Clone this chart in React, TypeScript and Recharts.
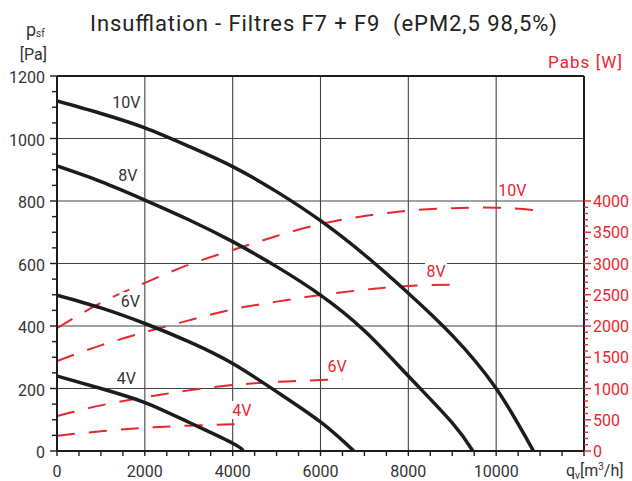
import React from 'react';
import { ComposedChart, Line, XAxis, YAxis, CartesianGrid, ReferenceLine, ReferenceDot } from 'recharts';

const FONT = 'Roboto, "DejaVu Sans", sans-serif';
const RED = '#e8262d';
const INK = '#1c1c1c';
const TXT = '#333333';

// ticks
const qMajorTicks = [0, 2000, 4000, 6000, 8000, 10000, 12000];
const qMinorTicks = [0, 500, 1000, 1500, 2000, 2500, 3000, 3500, 4000, 4500, 5000, 5500, 6000, 6500, 7000, 7500, 8000, 8500, 9000, 9500, 10000, 10500, 11000, 11500, 12000];
const pMajorTicks = [0, 200, 400, 600, 800, 1000, 1200];
const pMinorTicks = [0, 50, 100, 150, 200, 250, 300, 350, 400, 450, 500, 550, 600, 650, 700, 750, 800, 850, 900, 950, 1000, 1050, 1100, 1150, 1200];
const wMajorTicks = [0, 500, 1000, 1500, 2000, 2500, 3000, 3500, 4000];
const wMinorTicks = [0, 100, 200, 300, 400, 500, 600, 700, 800, 900, 1000, 1100, 1200, 1300, 1400, 1500, 1600, 1700, 1800, 1900, 2000, 2100, 2200, 2300, 2400, 2500, 2600, 2700, 2800, 2900, 3000, 3100, 3200, 3300, 3400, 3500, 3600, 3700, 3800, 3900, 4000];

// pressure curves (Pa)
const q10V = [0, 1000, 2000, 3000, 4000, 5000, 6000, 7000, 8000, 9000, 10000, 10850];
const p10V = [1120, 1080, 1034, 975, 910, 830, 737, 628, 505, 370, 200, 0];
const q8V = [0, 1000, 2000, 3000, 4000, 5000, 6000, 7000, 8000, 9000, 9470];
const p8V = [912, 862, 803, 740, 670, 590, 499, 385, 240, 90, 0];
const q6V = [0, 1000, 2000, 3000, 4000, 5000, 6000, 6760];
const p6V = [499, 458, 408, 350, 280, 190, 93, 0];
const q4V = [0, 1000, 2000, 3000, 4000, 4240];
const p4V = [240, 200, 155, 92, 25, 0];

// absorbed power curves (W)
const qW10V = [0, 1000, 2000, 3000, 4000, 5000, 6000, 7000, 8000, 9000, 10000, 10950];
const w10V = [1965, 2370, 2690, 2980, 3216, 3440, 3630, 3760, 3845, 3885, 3893, 3850];
const qW8V = [0, 1000, 2000, 3000, 4000, 5000, 6000, 7000, 8000, 9150];
const w8V = [1440, 1690, 1900, 2090, 2267, 2390, 2496, 2580, 2640, 2665];
const qW6V = [0, 1000, 2000, 3000, 4000, 5000, 6000, 6500];
const w6V = [560, 730, 860, 970, 1055, 1105, 1136, 1150];
const qW4V = [0, 1000, 2000, 3000, 4000, 4240];
const w4V = [245, 315, 370, 405, 427, 430];

// curve labels
const pLabels = [
  { text: '10V', q: 1580, v: 1118 },
  { text: '8V', q: 1615, v: 882 },
  { text: '6V', q: 1670, v: 480 },
  { text: '4V', q: 1580, v: 234 },
];
const wLabels = [
  { text: '10V', q: 10370, v: 4184 },
  { text: '8V', q: 8630, v: 2888 },
  { text: '6V', q: 6380, v: 1368 },
  { text: '4V', q: 4207, v: 656 },
];

const zip = (qs: number[], vs: number[]) => qs.map((q, i) => ({ q, v: vs[i] }));

const pressureSeries = [
  { name: 'p10V', data: zip(q10V, p10V) },
  { name: 'p8V', data: zip(q8V, p8V) },
  { name: 'p6V', data: zip(q6V, p6V) },
  { name: 'p4V', data: zip(q4V, p4V) },
];
const powerSeries = [
  { name: 'w10V', data: zip(qW10V, w10V) },
  { name: 'w8V', data: zip(qW8V, w8V) },
  { name: 'w6V', data: zip(qW6V, w6V) },
  { name: 'w4V', data: zip(qW4V, w4V) },
];

const BottomTick = (props: any) => {
  const { x, y, payload } = props;
  const v = payload.value;
  const major = qMajorTicks.includes(v);
  return (
    <g>
      <line x1={x} x2={x} y1={y} y2={y + 5} stroke={INK} strokeWidth={1.4} />
      {major && v !== 12000 && (
        <text x={x} y={y + 26} textAnchor="middle" fontSize={16} fill={TXT} fontFamily={FONT}>{v}</text>
      )}
    </g>
  );
};

const LeftTick = (props: any) => {
  const { x, y, payload } = props;
  const v = payload.value;
  const major = pMajorTicks.includes(v);
  return (
    <g>
      <line x1={x} x2={x - (major ? 7 : 5)} y1={y} y2={y} stroke={INK} strokeWidth={1.4} />
      {major && (
        <text x={x - 12} y={y + 7} textAnchor="end" fontSize={16} fill={TXT} fontFamily={FONT}>{v}</text>
      )}
    </g>
  );
};

const RightTick = (props: any) => {
  const { x, y, payload } = props;
  const v = payload.value;
  const major = wMajorTicks.includes(v);
  return (
    <g>
      <line x1={x} x2={x + (major ? 7 : 4)} y1={y} y2={y} stroke={RED} strokeWidth={1.4} />
      {major && (
        <text x={x + 9} y={y + 6} textAnchor="start" fontSize={16} fill={RED} fontFamily={FONT}>{v}</text>
      )}
    </g>
  );
};

const makeLabel = (text: string, color: string) => (props: any) => {
  const vb = props.viewBox || {};
  const cx = (vb.x ?? 0) + (vb.width ?? 0) / 2;
  const cy = (vb.y ?? 0) + (vb.height ?? 0) / 2;
  const w = text.length * 9 + 4;
  return (
    <g>
      <rect x={cx - w / 2} y={cy - 9} width={w} height={18} fill="#ffffff" />
      <text x={cx} y={cy + 6} textAnchor="middle" fontSize={16} fill={color} fontFamily={FONT}>{text}</text>
    </g>
  );
};

export default function App() {
  return (
    <div style={{ position: 'absolute', left: 0, top: 0, width: 632, height: 481, background: '#ffffff' }}>
      <ComposedChart width={632} height={481} margin={{ top: 76, right: 0, bottom: 0, left: 0 }}>
        <XAxis xAxisId="g" type="number" dataKey="q" domain={[0, 12000]} ticks={qMajorTicks} hide height={0} allowDataOverflow />
        <YAxis yAxisId="g" type="number" domain={[0, 1200]} ticks={pMajorTicks} hide width={0} allowDataOverflow />
        <CartesianGrid xAxisId="g" yAxisId="g" stroke="#444444" strokeWidth={1.1} />
        <XAxis
          xAxisId="q"
          type="number"
          dataKey="q"
          domain={[0, 12000]}
          ticks={qMinorTicks}
          interval={0}
          height={30}
          tickSize={0}
          tickMargin={0}
          tickLine={false}
          axisLine={{ stroke: INK, strokeWidth: 2 }}
          tick={BottomTick}
          allowDataOverflow
        />
        <YAxis
          yAxisId="p"
          type="number"
          domain={[0, 1200]}
          ticks={pMinorTicks}
          interval={0}
          width={57}
          tickSize={0}
          tickMargin={0}
          tickLine={false}
          axisLine={{ stroke: INK, strokeWidth: 2 }}
          tick={LeftTick}
          allowDataOverflow
        />
        <YAxis
          yAxisId="w"
          orientation="right"
          type="number"
          domain={[0, 6000]}
          ticks={wMinorTicks}
          interval={0}
          width={48}
          tickSize={0}
          tickMargin={0}
          tickLine={false}
          axisLine={{ stroke: INK, strokeWidth: 2 }}
          tick={RightTick}
          allowDataOverflow
        />
        <ReferenceLine xAxisId="q" yAxisId="p" y={1200} stroke={INK} strokeWidth={2} />
        {pLabels.map((l) => (
          <ReferenceDot key={'pl' + l.text} xAxisId="q" yAxisId="p" x={l.q} y={l.v} r={1} fill="none" stroke="none" label={{ content: makeLabel(l.text, TXT) }} />
        ))}
        {wLabels.map((l) => (
          <ReferenceDot key={'wl' + l.text} xAxisId="q" yAxisId="w" x={l.q} y={l.v} r={1} fill="none" stroke="none" label={{ content: makeLabel(l.text, RED) }} />
        ))}
        {powerSeries.map((s) => (
          <Line
            key={s.name}
            xAxisId="q"
            yAxisId="w"
            data={s.data}
            dataKey="v"
            type="natural"
            stroke={RED}
            strokeWidth={2}
            strokeDasharray="18 14"
            dot={false}
            activeDot={false}
            isAnimationActive={false}
          />
        ))}
        {pressureSeries.map((s) => (
          <Line
            key={s.name}
            xAxisId="q"
            yAxisId="p"
            data={s.data}
            dataKey="v"
            type="natural"
            stroke={INK}
            strokeWidth={3.5}
            dot={false}
            activeDot={false}
            isAnimationActive={false}
          />
        ))}
      </ComposedChart>
      <svg width={632} height={481} style={{ position: 'absolute', left: 0, top: 0, pointerEvents: 'none' }}>
        <text x={90} y={31} textLength={467} lengthAdjust="spacing" fontSize={22} fill="#222222" fontFamily={FONT}>
          {'Insufflation - Filtres F7 + F9\u00a0 (ePM2,5 98,5%)'}
        </text>
        <text x={26} y={36} fontSize={18} fill={TXT} fontFamily={FONT}>
          p<tspan fontSize={10} dy={1}>sf</tspan>
        </text>
        <text x={47} y={60} textAnchor="end" fontSize={16} fill={TXT} fontFamily={FONT}>[Pa]</text>
        <text x={548} y={68} textLength={74} lengthAdjust="spacing" fontSize={17} fill={RED} fontFamily={FONT}>Pabs [W]</text>
        <text x={566} y={476} fontSize={16} fill={TXT} fontFamily={FONT}>
          q<tspan fontSize={10} dy={3}>v</tspan>
          <tspan fontSize={16} dy={-3}>[m</tspan>
          <tspan fontSize={10} dy={-6}>3</tspan>
          <tspan fontSize={16} dy={6}>/h]</tspan>
        </text>
      </svg>
    </div>
  );
}
